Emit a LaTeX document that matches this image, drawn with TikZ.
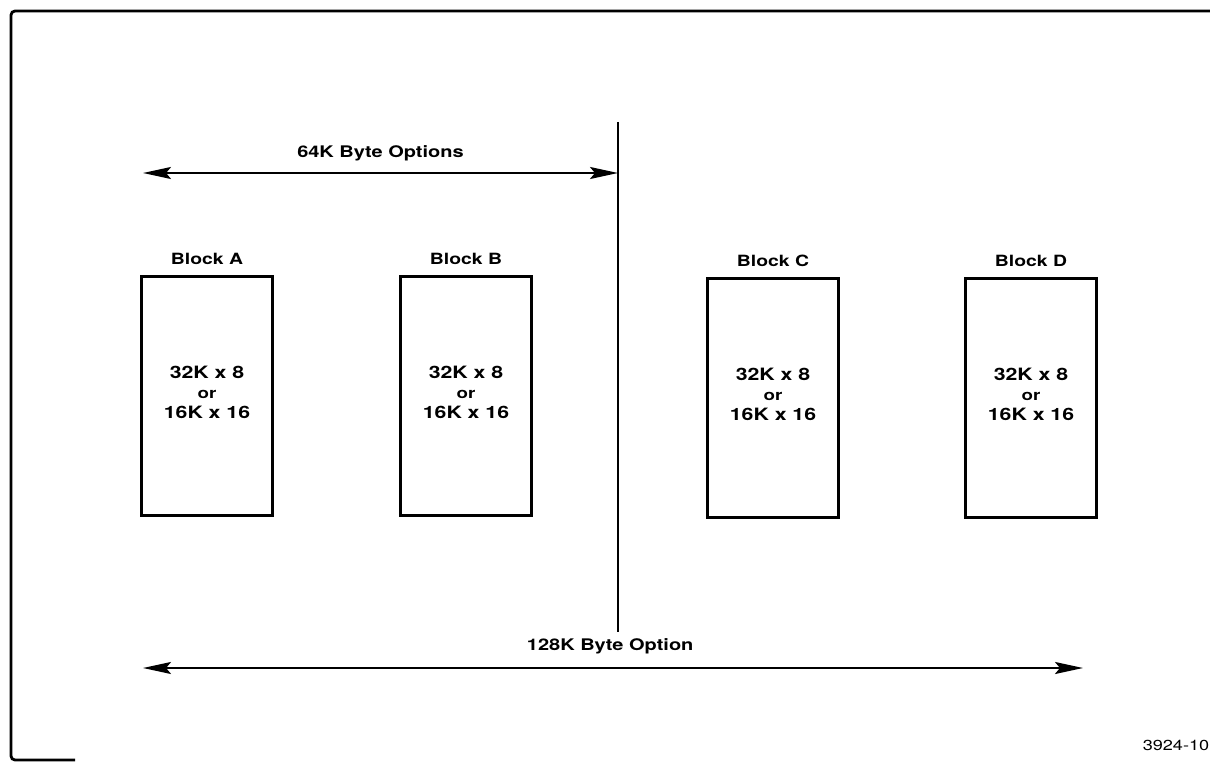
\documentclass[tikz,border=0pt]{standalone}
\usepackage{fontspec}
\setmainfont{TeX Gyre Heros}[FakeStretch=1.25]
\usetikzlibrary{arrows.meta}

\begin{document}
\begin{tikzpicture}[x=1pt,y=-1pt,
  memblock/.style={draw,line width=2.6pt,minimum width=131pt,minimum height=239pt,inner sep=0pt},
  memtext/.style={align=center,font=\bfseries\fontsize{17}{20}\selectfont},
  blocklabel/.style={font=\bfseries\fontsize{15.5}{18}\selectfont},
  spanlabel/.style={font=\bfseries\fontsize{16}{18}\selectfont},
  spanarrow/.style={line width=2.2pt,{Stealth[length=28pt,width=12pt,inset=5pt]}-{Stealth[length=28pt,width=12pt,inset=5pt]}}]
\useasboundingbox (0,0) rectangle (1210,762);
\draw[line width=2.8pt,rounded corners=4pt] (1230,11) -- (11,11) -- (11,760) -- (75,760);
  \foreach \blk/\xpos/\ypos in {A/207/396,B/466/396,C/773/398,D/1031/398}
  {  \node [memblock] (block\blk) at (\xpos,\ypos) {};
     \node [memtext] (text\blk) at ([yshift=4pt]block\blk.center)
       {32K x 8\\{\fontsize{15}{20}\selectfont or}\\16K x 16};
     \node [blocklabel,above=7pt] (label\blk) at (block\blk.north) {Block \blk};}
\coordinate (divtop) at (618,122);
\coordinate (divbot) at (618,632);
\draw[line width=2pt] (divtop) -- (divbot);
\coordinate (small left) at (143,173);
\coordinate (small right) at (618,173);
\draw[spanarrow] (small left) -- (small right)
  node[midway,above=8pt,spanlabel] (smalltext) {64K Byte Options};
\coordinate (big left) at (143,668);
\coordinate (big right) at (1083,668);
\draw[spanarrow] (big left) -- (big right)
  node[pos=0.497,above=10pt,spanlabel] (bigtext) {128K Byte Option};
\node[font=\fontsize{14.5}{16}\selectfont] (figno) at (1176,745) {3924-10};
\end{tikzpicture}
\end{document}
